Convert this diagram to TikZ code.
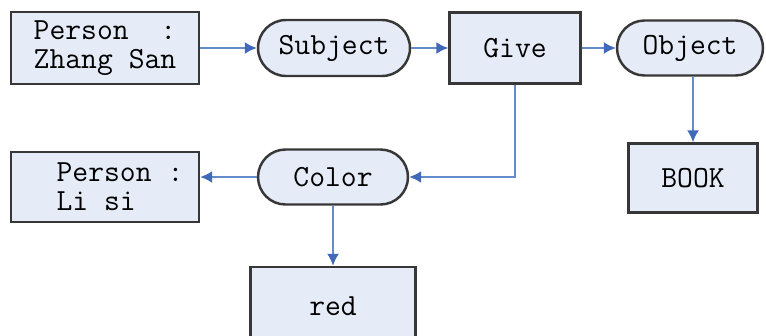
\documentclass[tikz,border=0pt]{standalone}
\usetikzlibrary{shapes.misc,arrows.meta}
\definecolor{boxfill}{RGB}{229,235,247}
\definecolor{boxline}{RGB}{55,55,55}
\definecolor{linkblue}{RGB}{100,140,205}
\definecolor{tipblue}{RGB}{65,105,185}
\begin{document}
\begin{tikzpicture}[x=0.02cm, y=-0.02cm,
  every node/.style={font=\ttfamily\fontsize{17.5}{16.5}\selectfont},
  box/.style={draw=boxline, line width=1.4pt, fill=boxfill, inner sep=0pt},
  pill/.style={box, rounded rectangle},
  link/.style={draw=linkblue, line width=1pt, -{Latex[length=2.4mm,width=2.4mm,color=tipblue]}}]
\useasboundingbox (0,0) rectangle (766,335);

% top row
\node[box, minimum width=3.76cm, minimum height=1.44cm, align=left] (zhang) at (105,48) {Person\ \ :\\Zhang San};
\node[pill, minimum width=3.04cm, minimum height=1.12cm] (subject) at (334,48) {Subject};
\node[box, minimum width=2.62cm, minimum height=1.42cm] (give) at (515,48) {Give};
\node[pill, minimum width=2.92cm, minimum height=1.10cm] (object) at (690,48) {Object};
\node[box, minimum width=2.58cm, minimum height=1.38cm] (book) at (693,178) {BOOK};

% lower part
\node[pill, minimum width=3.00cm, minimum height=1.10cm] (color) at (333,177) {Color};
\node[box, minimum width=3.76cm, minimum height=1.40cm, align=left] (lisi) at (105,187) {\hspace*{0.6cm}Person :\\\hspace*{0.6cm}Li si};
\node[box, minimum width=3.30cm, minimum height=1.56cm] (red) at (333,306) {red};

\draw[link] (zhang.east) -- (subject.west);
\draw[link] (subject.east) -- (give.west);
\draw[link] (give.east) -- (object.west);
\draw[link] (object.south -| book.north) -- (book.north);
\draw[link] (give.south) |- (color.east);
\draw[link] (color.west) -- (color.west -| lisi.east);
\draw[link] (color.south) -- (red.north);
\end{tikzpicture}
\end{document}
